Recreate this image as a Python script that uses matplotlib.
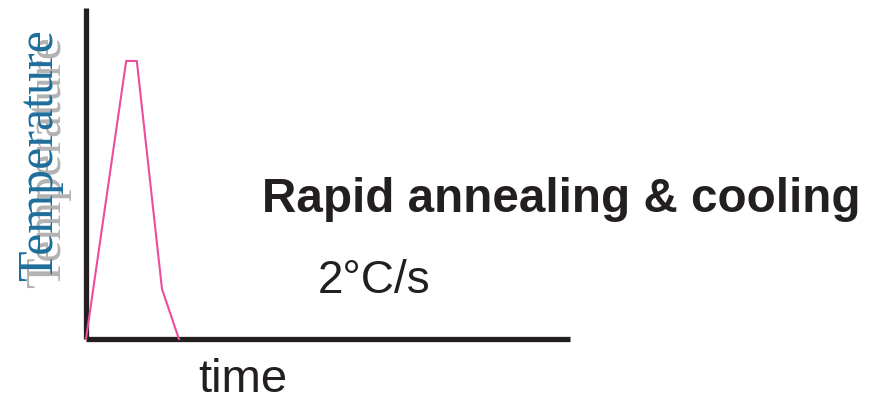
import matplotlib
matplotlib.use("Agg")
import matplotlib.pyplot as plt

# Temperature profile (arbitrary units, axes 0-100)
time_pts = [0, 8.3, 10.5, 15.7, 19.2]
temp_pts = [0, 84, 84, 15.1, 0]

title_text = "Rapid annealing & cooling"
rate_text = "2°C/s"
xlabel_text = "time"
ylabel_text = "Temperature"

W, H = 873, 401
fig = plt.figure(figsize=(W / 100, H / 100), dpi=100)
fig.patch.set_facecolor("white")

def fx(px):
    return px / W

def fy(py):
    return 1 - py / H

ax = fig.add_axes([fx(86), fy(339), fx(570) - fx(86), fy(8) - fy(339)])
ax.set_xlim(0, 100)
ax.set_ylim(0, 100)
ax.set_facecolor("none")
for s in ("top", "right"):
    ax.spines[s].set_visible(False)
for s in ("left", "bottom"):
    ax.spines[s].set_linewidth(3.8)
    ax.spines[s].set_color("#231f20")
    ax.spines[s].set_capstyle("butt")
ax.set_xticks([])
ax.set_yticks([])

ax.plot(time_pts, temp_pts, color="#ee4c9c", lw=1.5, clip_on=False, zorder=5)

# Y label with shadow
fig.text(fx(48), fy(162), ylabel_text, rotation=90, ha="center", va="center",
         family="Liberation Serif", fontsize=36, color="#b3b3b3")
fig.text(fx(40), fy(155), ylabel_text, rotation=90, ha="center", va="center",
         family="Liberation Serif", fontsize=36, color="#1e6e9b")

fig.text(fx(262), fy(212), title_text, ha="left", va="baseline",
         family="Liberation Sans", fontweight="bold", fontsize=34.3, color="#231f20")
fig.text(fx(318), fy(293), rate_text, ha="left", va="baseline",
         family="Liberation Sans", fontsize=33, color="#231f20")
fig.text(fx(198), fy(392), xlabel_text, ha="left", va="baseline",
         family="Liberation Sans", fontsize=34, color="#231f20")

fig.savefig("out.png", dpi=100, facecolor="white")
